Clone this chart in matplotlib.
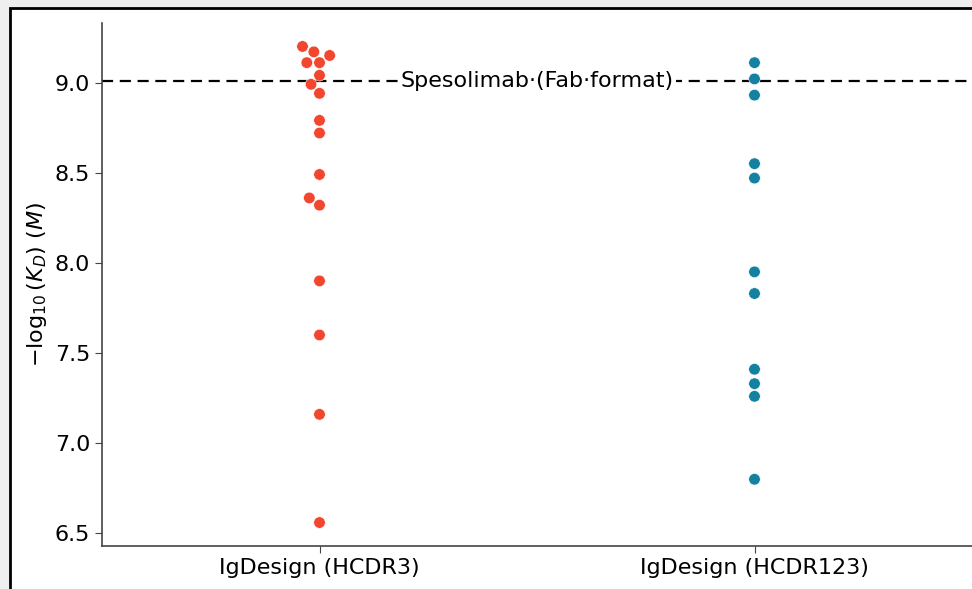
import numpy as np
import pandas as pd
import matplotlib
matplotlib.use("Agg")
import matplotlib.pyplot as plt
import seaborn as sns
from matplotlib.patches import Rectangle

# -log10(KD) values
groups = ["IgDesign (HCDR3)", "IgDesign (HCDR123)"]
hcdr3 = [9.20, 9.17, 9.15, 9.11, 9.11, 9.04, 8.99, 8.94, 8.79, 8.72,
         8.49, 8.36, 8.32, 7.90, 7.60, 7.16, 6.56]
hcdr123 = [9.11, 9.02, 8.93, 8.55, 8.47, 7.95, 7.83, 7.41, 7.33, 7.26, 6.80]
reference_kd = 9.01
reference_label = "Spesolimab·(Fab·format)"
colors = ["#F2462F", "#13819F"]

df = pd.DataFrame({
    "group": [groups[0]] * len(hcdr3) + [groups[1]] * len(hcdr123),
    "value": hcdr3 + hcdr123,
})

fig = plt.figure(figsize=(9.72, 5.89), dpi=100, facecolor="#efefef")
# white panel with black frame (screenshot border)
fig.patches.append(Rectangle((10 / 972, -0.2), 1.2, 1.2 - 8 / 589,
                             transform=fig.transFigure, facecolor="white",
                             edgecolor="black", linewidth=2, zorder=-5))

ax = fig.add_axes([102 / 972, 1 - 546 / 589, 1 - 102 / 972, (546 - 23) / 589])
ax.set_zorder(1)
ax.set_facecolor("white")

sns.swarmplot(data=df, x="group", y="value", hue="group", palette=colors,
              size=8.3, linewidth=0.4, edgecolor="white", legend=False, ax=ax)

ax.axhline(reference_kd, color="black", linestyle="--", linewidth=1.6,
           dashes=(5, 3), zorder=0)
ax.text(0.5, reference_kd, reference_label, ha="center", va="center",
        fontsize=16, bbox=dict(facecolor="white", edgecolor="none", pad=2))

ax.set_xlim(-0.5, 1.5)
ax.set_ylim(6.43, 9.33)
ax.set_yticks([6.5, 7.0, 7.5, 8.0, 8.5, 9.0])
ax.set_xlabel("")
ax.set_ylabel(r"$-\log_{10}(K_D)$ $(M)$", fontsize=16)
ax.tick_params(labelsize=16, color="#444444", length=5)
for s in ["top", "right"]:
    ax.spines[s].set_visible(False)
for s in ["left", "bottom"]:
    ax.spines[s].set_color("#444444")
    ax.spines[s].set_linewidth(1.2)

fig.savefig("out.png", dpi=100, facecolor=fig.get_facecolor())
